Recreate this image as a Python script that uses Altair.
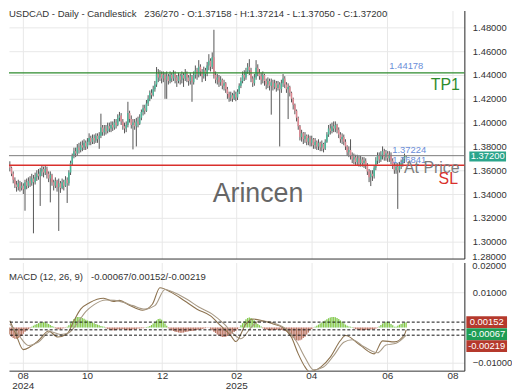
import altair as alt
import pandas as pd

# ---------------- data ----------------
close = [
    1.362, 1.357, 1.352, 1.348, 1.346, 1.349, 1.345, 1.347, 1.344, 1.350,
    1.347, 1.351, 1.349, 1.353, 1.350, 1.354, 1.357, 1.355, 1.359, 1.361,
    1.358, 1.361, 1.357, 1.353, 1.356, 1.350, 1.347, 1.351, 1.346, 1.349,
    1.345, 1.350, 1.347, 1.352, 1.349, 1.358, 1.366, 1.372, 1.376, 1.374,
    1.379, 1.377, 1.381, 1.379, 1.383, 1.380, 1.384, 1.387, 1.384, 1.387,
    1.385, 1.389, 1.386, 1.389, 1.396, 1.392, 1.395, 1.393, 1.397, 1.395,
    1.398, 1.396, 1.400, 1.398, 1.404, 1.406, 1.401, 1.397, 1.395, 1.398,
    1.408, 1.403, 1.398, 1.400, 1.397, 1.401, 1.399, 1.404, 1.409, 1.412,
    1.410, 1.416, 1.420, 1.425, 1.423, 1.428, 1.432, 1.441, 1.438, 1.441,
    1.437, 1.440, 1.436, 1.439, 1.435, 1.440, 1.437, 1.441, 1.438, 1.435,
    1.439, 1.436, 1.440, 1.437, 1.441, 1.438, 1.435, 1.439, 1.434, 1.440,
    1.444, 1.440, 1.447, 1.443, 1.439, 1.444, 1.441, 1.448, 1.452, 1.447,
    1.455, 1.440, 1.436, 1.438, 1.434, 1.436, 1.431, 1.433, 1.428, 1.424,
    1.421, 1.423, 1.420, 1.424, 1.421, 1.426, 1.431, 1.435, 1.440, 1.438,
    1.443, 1.447, 1.444, 1.437, 1.433, 1.438, 1.446, 1.442, 1.439, 1.436,
    1.440, 1.435, 1.432, 1.435, 1.431, 1.434, 1.430, 1.433, 1.429, 1.432,
    1.428, 1.433, 1.437, 1.432, 1.428, 1.430, 1.425, 1.420, 1.415, 1.410,
    1.404, 1.397, 1.388, 1.391, 1.386, 1.389, 1.384, 1.387, 1.383, 1.386,
    1.381, 1.384, 1.380, 1.383, 1.379, 1.382, 1.378, 1.384, 1.390, 1.395,
    1.393, 1.397, 1.395, 1.398, 1.394, 1.390, 1.386, 1.388, 1.384, 1.380,
    1.375, 1.377, 1.372, 1.369, 1.371, 1.367, 1.370, 1.366, 1.369, 1.366,
    1.368, 1.364, 1.359, 1.354, 1.357, 1.355, 1.362, 1.368, 1.372, 1.369,
    1.373, 1.376, 1.371, 1.374, 1.370, 1.373, 1.368, 1.364, 1.360, 1.363,
    1.360, 1.364, 1.366, 1.369, 1.37158, 1.372,
]
high = [
    1.3675, 1.363, 1.359, 1.354, 1.351, 1.352, 1.351, 1.350, 1.349, 1.352,
    1.353, 1.354, 1.355, 1.357, 1.356, 1.358, 1.360, 1.361, 1.362, 1.364,
    1.363, 1.364, 1.363, 1.359, 1.359, 1.357, 1.352, 1.354, 1.352, 1.353,
    1.351, 1.353, 1.352, 1.355, 1.354, 1.360, 1.368, 1.374, 1.379, 1.379,
    1.382, 1.383, 1.384, 1.385, 1.386, 1.385, 1.387, 1.391, 1.389, 1.390,
    1.390, 1.391, 1.391, 1.392, 1.4075, 1.398, 1.398, 1.398, 1.400, 1.400,
    1.401, 1.401, 1.403, 1.403, 1.407, 1.409, 1.408, 1.403, 1.400, 1.401,
    1.4175, 1.410, 1.406, 1.403, 1.403, 1.404, 1.405, 1.407, 1.411, 1.415,
    1.415, 1.419, 1.423, 1.427, 1.428, 1.431, 1.435, 1.4467, 1.445, 1.444,
    1.443, 1.443, 1.442, 1.443, 1.441, 1.443, 1.442, 1.444, 1.443, 1.440,
    1.442, 1.441, 1.443, 1.442, 1.445, 1.443, 1.440, 1.442, 1.440, 1.443,
    1.448, 1.446, 1.4525, 1.449, 1.445, 1.447, 1.446, 1.451, 1.4575, 1.454,
    1.459, 1.478, 1.443, 1.441, 1.440, 1.439, 1.437, 1.436, 1.434, 1.430,
    1.426, 1.426, 1.425, 1.427, 1.426, 1.428, 1.433, 1.438, 1.443, 1.444,
    1.446, 1.450, 1.4533, 1.446, 1.439, 1.441, 1.4525, 1.449, 1.445, 1.442,
    1.443, 1.441, 1.437, 1.438, 1.437, 1.437, 1.436, 1.436, 1.435, 1.435,
    1.434, 1.436, 1.4408, 1.439, 1.434, 1.433, 1.431, 1.426, 1.421, 1.416,
    1.411, 1.405, 1.398, 1.394, 1.392, 1.392, 1.390, 1.390, 1.389, 1.389,
    1.387, 1.387, 1.385, 1.386, 1.384, 1.385, 1.383, 1.386, 1.392, 1.398,
    1.399, 1.400, 1.401, 1.401, 1.399, 1.396, 1.392, 1.391, 1.390, 1.386,
    1.381, 1.380, 1.386, 1.375, 1.374, 1.373, 1.373, 1.372, 1.372, 1.371,
    1.371, 1.370, 1.366, 1.361, 1.360, 1.360, 1.364, 1.371, 1.375, 1.375,
    1.376, 1.380, 1.378, 1.377, 1.376, 1.376, 1.375, 1.370, 1.366, 1.366,
    1.366, 1.367, 1.369, 1.371, 1.374, 1.37214,
]
low = [
    1.359, 1.355, 1.349, 1.345, 1.342, 1.343, 1.342, 1.343, 1.340, 1.326,
    1.344, 1.345, 1.346, 1.347, 1.307, 1.348, 1.351, 1.352, 1.330, 1.355,
    1.354, 1.356, 1.353, 1.350, 1.333, 1.347, 1.343, 1.345, 1.342, 1.309,
    1.341, 1.344, 1.343, 1.346, 1.3325, 1.347, 1.356, 1.364, 1.370, 1.371,
    1.372, 1.374, 1.375, 1.376, 1.377, 1.377, 1.378, 1.381, 1.381, 1.382,
    1.382, 1.383, 1.383, 1.378, 1.387, 1.389, 1.389, 1.390, 1.391, 1.392,
    1.392, 1.393, 1.394, 1.395, 1.397, 1.401, 1.398, 1.394, 1.391, 1.392,
    1.396, 1.400, 1.395, 1.3775, 1.394, 1.380, 1.396, 1.398, 1.402, 1.406,
    1.407, 1.409, 1.414, 1.418, 1.420, 1.422, 1.426, 1.430, 1.434, 1.435,
    1.433, 1.434, 1.420, 1.420, 1.432, 1.433, 1.434, 1.435, 1.433, 1.430,
    1.433, 1.432, 1.433, 1.430, 1.435, 1.434, 1.431, 1.432, 1.4175, 1.432,
    1.437, 1.436, 1.438, 1.439, 1.434, 1.437, 1.435, 1.439, 1.444, 1.443,
    1.445, 1.437, 1.433, 1.432, 1.430, 1.431, 1.428, 1.427, 1.425, 1.420,
    1.4175, 1.418, 1.4175, 1.419, 1.418, 1.419, 1.424, 1.429, 1.433, 1.435,
    1.436, 1.441, 1.440, 1.434, 1.430, 1.431, 1.436, 1.439, 1.436, 1.432,
    1.433, 1.431, 1.428, 1.429, 1.427, 1.4067, 1.427, 1.428, 1.426, 1.427,
    1.380, 1.425, 1.430, 1.429, 1.425, 1.403, 1.422, 1.417, 1.411, 1.407,
    1.401, 1.394, 1.385, 1.384, 1.382, 1.383, 1.381, 1.381, 1.380, 1.380,
    1.378, 1.378, 1.377, 1.377, 1.376, 1.376, 1.375, 1.377, 1.383, 1.388,
    1.390, 1.391, 1.392, 1.392, 1.391, 1.387, 1.383, 1.382, 1.381, 1.377,
    1.372, 1.371, 1.369, 1.366, 1.365, 1.364, 1.364, 1.363, 1.363, 1.363,
    1.362, 1.361, 1.356, 1.350, 1.3467, 1.351, 1.353, 1.360, 1.365, 1.366,
    1.367, 1.369, 1.368, 1.368, 1.367, 1.367, 1.365, 1.361, 1.357, 1.357,
    1.3275, 1.358, 1.361, 1.363, 1.366, 1.3705,
]
first_open = 1.364

# MACD histogram, in units of 0.0001, one per bar
hist_e4 = [
    -20, -26, -30, -32, -32, -30, -28, -24, -18,
    -12, -8, -5, -2, 2,
    5, 8, 10, 12, 14, 15, 15, 14, 12, 10, 7, 4,
    2, -2, -4, -5, -4, -3, -2, -1, 2,
    6, 12, 18, 24, 28, 30, 30, 29, 27, 25, 22, 20, 18, 16, 14, 12, 10, 8, 6, 4, 3, 2,
    -2, -4, -6, -7, -8, -8, -7, -6, -5, -4, -5, -6, -7, -8, -8, -7, -6, -5, -4, -3, -3, -2, -2, -1, 1, 2, 4,
    7, 11, 15, 20, 24, 25, 22, 17, 11, 5,
    -2, -5, -8, -10, -12, -13, -14, -15, -15, -14, -13, -12, -11, -10, -10, -9, -8, -7, -6, -5, -4, -3, -2, -1, -1,
    -4, -8, -12, -16, -20, -23, -25, -27, -27, -26, -24, -22, -20, -17, -13, -9, -5, -1,
    6, 12, 18, 23, 27, 28, 27, 24, 20, 15, 10, 6, 3,
    -2, -4, -6, -7, -8, -8, -8, -7, -7, -6, -6, -7, -8, -9, -11,
    -14, -18, -24, -30, -34, -36, -37, -36, -34, -30, -26, -20, -14, -8, -4, -1,
    2, 5, 8, 11, 14, 17, 20, 23, 26, 28, 30, 30, 29, 27, 24, 20, 16, 12, 8, 5, 3, 2, 1,
    -2, -4, -6, -7, -8, -8, -8, -7, -7, -6, -6, -5, -4, -3, -1,
    3, 7, 11, 14, 16, 16, 14, 10, 6, 2,
    2, 5, 8, 10, 12, 14, 15,
]

macd_pos = [0, 3.5, 8, 12, 17, 23, 28.4, 34, 38, 42, 47.5, 55.6, 61.3, 65, 70.6,
            78.7, 84.5, 89, 96, 103.5, 111, 119, 125, 131, 134, 140, 144, 150,
            156, 161.3, 167, 171, 175, 177.5, 184.5, 190, 196, 199, 207.6, 216,
            221, 228, 234, 235]
macd_val = [0.0019, -0.0018, -0.0063, -0.0055, -0.0037, -0.0010, -0.0027, -0.0018,
            0.0019, 0.0052, 0.0071, 0.0083, 0.0074, 0.0077, 0.0064, 0.0049, 0.0066,
            0.0113, 0.0099, 0.0076, 0.0052, 0.0033, 0.0005, -0.0023, -0.0040, 0.0010,
            0.0024, 0.0019, 0.0010, 0.0001, -0.0028, -0.0075, -0.0112, -0.0125,
            -0.0112, -0.0084, -0.0037, -0.0023, -0.0050, -0.0075, -0.0038, -0.0041,
            -0.0020, -0.00067]
sig_pos = [0, 5, 11, 17, 24, 30, 35, 40, 45, 50, 57, 62, 67, 73, 80, 86, 92, 98,
           105, 112, 120, 127, 133, 137, 143, 148, 153, 158, 164, 170, 175, 180,
           186, 192, 198, 203, 210, 218, 223, 229, 235]
sig_val = [0.0010, -0.0020, -0.0051, -0.0041, -0.0012, -0.0020, -0.0015, 0.0012,
           0.0045, 0.0065, 0.0078, 0.0077, 0.0072, 0.0062, 0.0052, 0.0062, 0.0108,
           0.0098, 0.0080, 0.0058, 0.0038, 0.0010, -0.0020, -0.0032, 0.0000, 0.0018,
           0.0017, 0.0010, -0.0005, -0.0040, -0.0085, -0.0120, -0.0112, -0.0080,
           -0.0042, -0.0035, -0.0055, -0.0072, -0.0050, -0.0045, -0.00219]

# last values shown in the MACD panel (histogram / MACD / signal)
macd_last_vals = [0.00152, -0.00067, -0.00219]
macd_last_text = ["0.00152", "-0.00067", "-0.00219"]

# x axis (bar-index positions of month starts)
tick_pos = [8.1, 46.3, 90.8, 134.7, 179.2, 224.3, 263.0]
tick_month = ["08", "10", "12", "02", "04", "06", "08"]
tick_year = ["2024", "", "", "2025", "", "", ""]

price_ticks = [1.30, 1.32, 1.34, 1.36, 1.38, 1.40, 1.42, 1.44, 1.46, 1.48]
macd_ticks = [0.01, -0.01]

# horizontal levels
level_price = [1.44178, 1.37224, 1.3642]
level_color = ["#2e8b2e", "#7a7a7a", "#d9302c"]
level_width = [1.2, 1.0, 1.6]

ann_text = ["1.44178", "TP1", "1.37224", "1.36841", "At Price", "SL"]
ann_pos = [225.5, 267.3, 227.2, 227.2, 234.2, 266.2]
ann_price = [1.44178, 1.44178, 1.37224, 1.36841, 1.36841, 1.3642]

last_price = 1.372
NB = "\u00a0"
title_text = ("USDCAD - Daily - Candlestick" + NB * 3 + "236/270 - O:1.37158 - H:1.37214 - "
              "L:1.37050 - C:1.37200")
macd_title = "MACD (12, 26, 9)" + NB * 3 + "-0.00067/0.00152/-0.00219"

# ---------------- layout ----------------
W = 459
H_MAIN = 250
H_MACD = 109
X_DOM = [0, 270]
P_DOM = [1.2858, 1.4942]
M_DOM = [-0.01226, 0.01845]
FONT = "Liberation Sans"
LBL = "#333333"
GRID = "#e8e8e8"

opens = [first_open] + close[:-1]
candles = pd.DataFrame({"i": list(range(len(close))), "open": opens,
                        "close": close, "high": high, "low": low})
candles["xi"] = candles["i"] + 0.5

xs = alt.Scale(domain=X_DOM, nice=False, zero=False)
ps = alt.Scale(domain=P_DOM, nice=False, zero=False)
ms = alt.Scale(domain=M_DOM, nice=False, zero=False)

main_x_axis = alt.Axis(values=tick_pos, labels=False, ticks=False, domain=True,
                       domainColor="#333", grid=True, gridColor=GRID, title=None)
price_axis = alt.Axis(orient="right", values=price_ticks, format=".5f", ticks=False,
                      domain=True, domainColor="#222", labelPadding=8,
                      labelFontSize=9.5, labelColor=LBL, grid=True, gridColor=GRID,
                      labelOverlap=False, labelFlush=False, title=None)


def PX(field):
    return alt.X(field, scale=xs, axis=main_x_axis)


def PY(field):
    return alt.Y(field, scale=ps, axis=price_axis)


up_col = "#4cb79a"
dn_col = "#de8791"

wick = alt.Chart(candles).mark_rule(color="#555555", strokeWidth=1, clip=True).encode(
    x=PX("xi:Q"), y=PY("low:Q"), y2="high:Q")
body = alt.Chart(candles).mark_rule(strokeWidth=1.6, clip=True).encode(
    x=PX("xi:Q"), y=PY("open:Q"), y2="close:Q",
    color=alt.condition("datum.close >= datum.open", alt.value(up_col), alt.value(dn_col)),
)

lv = pd.DataFrame({"price": level_price, "col": level_color, "w": level_width})
levels = alt.Chart(lv).mark_rule().encode(
    y=PY("price:Q"),
    color=alt.Color("col:N", scale=None),
    strokeWidth=alt.StrokeWidth("w:Q", scale=None),
)

ann_style = [
    dict(color="#6a8ed8", fontSize=9.5, align="left", dy=-7),
    dict(color="#2e8b2e", fontSize=16, align="right", dy=12),
    dict(color="#6a8ed8", fontSize=9.5, align="left", dy=-6),
    dict(color="#6a8ed8", fontSize=9.5, align="left", dy=0),
    dict(color="#7d7d7d", fontSize=16, align="left", dy=8),
    dict(color="#d9302c", fontSize=16, align="right", dy=14),
]
ann_layers = []
for k in range(len(ann_text)):
    d = pd.DataFrame({"t": [ann_text[k]], "x": [ann_pos[k]], "p": [ann_price[k]]})
    ann_layers.append(
        alt.Chart(d).mark_text(baseline="middle", **ann_style[k]).encode(
            x=PX("x:Q"), y=PY("p:Q"), text="t:N"))

lp = pd.DataFrame({"p": [last_price], "t": [f"{last_price:.5f}"]})
lp_box = alt.Chart(lp).mark_rect(color="#2ba58c", yOffset=-4.5, y2Offset=5.5, clip=False).encode(
    x=alt.value(W + 5), x2=alt.value(W + 42), y=PY("p:Q"), y2="p:Q")
lp_txt = alt.Chart(lp).mark_text(color="white", fontSize=9.5, align="center",
                                 baseline="middle", dy=0.5).encode(
    x=alt.value(W + 23.5), y=PY("p:Q"), text="t:N")

title = alt.Chart(pd.DataFrame({"t": [title_text]})).mark_text(
    align="left", baseline="middle", fontSize=9.6, color="#333").encode(
    x=alt.value(0), y=alt.value(4), text="t:N")
water = alt.Chart(pd.DataFrame({"t": ["Arincen"]})).mark_text(
    align="center", baseline="middle", fontSize=27, color="#666666").encode(
    x=alt.value(251), y=alt.value(185), text="t:N")
p128 = alt.Chart(pd.DataFrame({"t": ["1.28000"]})).mark_text(
    align="left", baseline="middle", fontSize=9.5, color=LBL).encode(
    x=alt.value(W + 8), y=alt.value(H_MAIN - 2), text="t:N")

main = alt.layer(wick, body, levels, *ann_layers, lp_box, lp_txt, title, water, p128
                 ).properties(width=W, height=H_MAIN)

# ---------------- MACD panel ----------------
lab_items = []
for m, yv in zip(tick_month, tick_year):
    lab_items.append(f"['{m}','{yv}']" if yv else f"'{m}'")
label_expr = ("[" + ",".join(lab_items) + "][indexof([" +
              ",".join(str(v) for v in tick_pos) + "], datum.value)]")

macd_x_axis = alt.Axis(values=tick_pos, labelExpr=label_expr, ticks=False, domain=True,
                       domainColor="#333", grid=True, gridColor=GRID, title=None,
                       labelFontSize=10, labelColor=LBL, labelPadding=0,
                       labelLineHeight=10, labelFlush=False, labelOverlap=False,
                       labelBound=False)
macd_y_axis = alt.Axis(orient="right", values=macd_ticks, format=".5f", ticks=False,
                       domain=True, domainColor="#222", labelPadding=8,
                       labelFontSize=9.5, labelColor=LBL, grid=True, gridColor=GRID,
                       labelOverlap=False, title=None)


def MX(field):
    return alt.X(field, scale=xs, axis=macd_x_axis)


def MY(field):
    return alt.Y(field, scale=ms, axis=macd_y_axis)


hd = pd.DataFrame({"xi": [i + 0.5 for i in range(len(hist_e4))], "h": [v / 10000 for v in hist_e4]})
hd["hp"] = hd["h"].clip(lower=0)
hd["hn"] = hd["h"].clip(upper=0)
hd["zero"] = 0.0

hist_bg_pos = alt.Chart(hd).mark_area(color="#cdf5ec", interpolate="step").encode(
    x=MX("xi:Q"), y=MY("hp:Q"), y2="zero:Q")
hist_bg_neg = alt.Chart(hd).mark_area(color="#f9d0d7", interpolate="step").encode(
    x=MX("xi:Q"), y=MY("hn:Q"), y2="zero:Q")
hist_bars = alt.Chart(hd).mark_rule(strokeWidth=1.1).encode(
    x=MX("xi:Q"), y=MY("h:Q"), y2="zero:Q",
    color=alt.condition("datum.h >= 0", alt.value("#8dc63f"), alt.value("#b57a62")))

md = pd.DataFrame({"xi": [p + 0.5 for p in macd_pos], "v": macd_val})
sd = pd.DataFrame({"xi": [p + 0.5 for p in sig_pos], "v": sig_val})
macd_line = alt.Chart(md).mark_line(color="#8d7350", strokeWidth=1.1,
                                    interpolate="monotone", clip=True).encode(
    x=MX("xi:Q"), y=MY("v:Q"))
sig_line = alt.Chart(sd).mark_line(color="#a89a86", strokeWidth=1.1,
                                   interpolate="monotone", clip=True).encode(
    x=MX("xi:Q"), y=MY("v:Q"))

dl = pd.DataFrame({"v": macd_last_vals, "t": macd_last_text})
dots = alt.Chart(dl).mark_rule(color="#111", strokeDash=[3, 2], strokeWidth=1).encode(
    y=MY("v:Q"))

box_cols = ["#b5392c", "#1f9d55", "#b5392c"]
box_shift = [0, 4.5, 11]
box_layers = []
for k in range(3):
    d = pd.DataFrame({"v": [macd_last_vals[k]], "t": [macd_last_text[k]]})
    box_layers.append(alt.Chart(d).mark_rect(
        color=box_cols[k], yOffset=box_shift[k] - 6, y2Offset=box_shift[k] + 6).encode(
        x=alt.value(W + 2), x2=alt.value(W + 43), y=MY("v:Q"), y2="v:Q"))
    box_layers.append(alt.Chart(d).mark_text(
        color="white", fontSize=9.5, align="center", baseline="middle",
        dy=box_shift[k]).encode(
        x=alt.value(W + 22.5), y=MY("v:Q"), text="t:N"))

mtitle = alt.Chart(pd.DataFrame({"t": [macd_title]})).mark_text(
    align="left", baseline="middle", fontSize=9.6, color="#333").encode(
    x=alt.value(0), y=alt.value(15), text="t:N")
m002 = alt.Chart(pd.DataFrame({"t": ["0.02000"]})).mark_text(
    align="left", baseline="middle", fontSize=9.5, color=LBL).encode(
    x=alt.value(W + 8), y=alt.value(4), text="t:N")

macd = alt.layer(hist_bg_pos, hist_bg_neg, hist_bars, macd_line, sig_line, dots,
                 *box_layers, mtitle, m002).properties(width=W, height=H_MACD)

chart = alt.vconcat(main, macd, spacing=0).properties(padding=0).configure(
    font=FONT).configure_view(stroke=None)

chart.save("out.html", embed_options={"renderer": "svg", "actions": False})
